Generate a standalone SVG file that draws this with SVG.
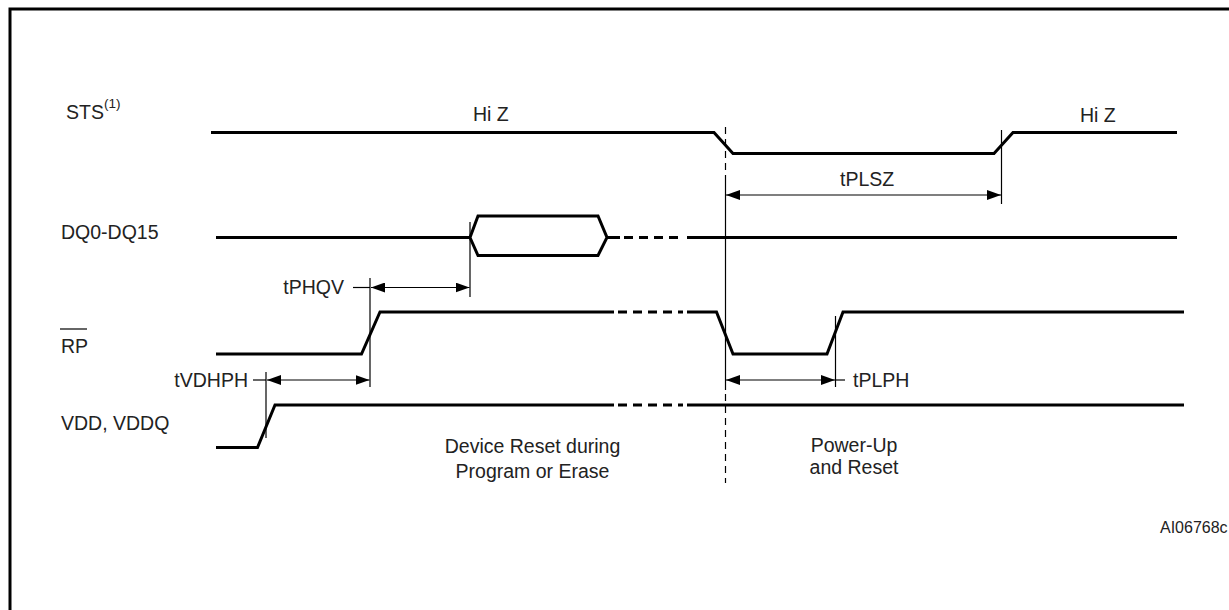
<svg xmlns="http://www.w3.org/2000/svg" width="1229" height="610" viewBox="0 0 1229 610">
<style>
.sig{fill:none;stroke:#000;stroke-width:3;stroke-linejoin:miter}
.dash{fill:none;stroke:#000;stroke-width:3;stroke-dasharray:9 6}
.thin{fill:none;stroke:#000;stroke-width:1.2}
.vdash{fill:none;stroke:#000;stroke-width:1.2;stroke-dasharray:7 5}
.t{font-family:"Liberation Sans",Arial,sans-serif;font-size:19.5px;fill:#222}
.s{font-family:"Liberation Sans",Arial,sans-serif;font-size:16px;fill:#222}
</style>
<defs>
<marker id="ah" viewBox="0 0 14 10" refX="14" refY="5" markerWidth="14" markerHeight="10" markerUnits="userSpaceOnUse" orient="auto-start-reverse">
<path d="M0,0 L14,5 L0,10 Z" fill="#000"/>
</marker>
</defs>
<rect width="1229" height="610" fill="#fff"/>
<path d="M10,615 V9 H1235" fill="none" stroke="#000" stroke-width="3"/>

<g id="sts">
<text class="t" x="66" y="119">STS<tspan font-size="13.5px" dy="-11">(1)</tspan></text>
<path class="sig" d="M211,132.5 H714 L733,153.5 H994 L1013,132.5 H1177"/>
<text class="t" x="473" y="121">Hi Z</text>
<text class="t" x="1080" y="121.5">Hi Z</text>
</g>

<g id="dq">
<text class="t" x="61" y="239">DQ0-DQ15</text>
<path class="sig" d="M216,237.5 H470 M470,237.5 L478,216 H598 L607,237.5 L598,255.5 H478 Z M607,237.5 H620"/>
<path class="dash" d="M624,237.5 H683"/>
<path class="sig" d="M687,237.5 H1177"/>
</g>

<g id="rp">
<text class="t" x="61" y="352.5">RP</text>
<line class="thin" x1="60" y1="329" x2="87" y2="329" stroke-width="1.5"/>
<path class="sig" d="M216,354 H361.5 L380,312 H614"/>
<path class="dash" d="M618,312 H683"/>
<path class="sig" d="M687,312 H716.5 L733,354 H827 L843,312 H1184"/>
</g>

<g id="vdd">
<text class="t" x="61" y="430">VDD, VDDQ</text>
<path class="sig" d="M216,447.5 H257.5 L275,405 H614"/>
<path class="dash" d="M618,405 H683"/>
<path class="sig" d="M687,405 H1184"/>
</g>

<g id="connectors">
<path class="vdash" d="M725.5,127 V178"/>
<path class="thin" d="M725.5,178 V390"/>
<path class="vdash" d="M725.5,394 V483"/>
<line class="thin" x1="1001.5" y1="130" x2="1001.5" y2="204"/>
<line class="thin" x1="726" y1="195" x2="1001" y2="195" marker-start="url(#ah)" marker-end="url(#ah)"/>
<line class="thin" x1="470" y1="222" x2="470" y2="297"/>
<line class="thin" x1="370" y1="278" x2="370" y2="387"/>
<line class="thin" x1="353" y1="287.5" x2="370" y2="287.5"/>
<line class="thin" x1="371" y1="287.5" x2="469.5" y2="287.5" marker-start="url(#ah)" marker-end="url(#ah)"/>
<line class="thin" x1="266" y1="372" x2="266" y2="438"/>
<line class="thin" x1="253" y1="380" x2="266" y2="380"/>
<line class="thin" x1="267" y1="380" x2="369.5" y2="380" marker-start="url(#ah)" marker-end="url(#ah)"/>
<line class="thin" x1="835.5" y1="316" x2="835.5" y2="387"/>
<line class="thin" x1="726" y1="380" x2="835" y2="380" marker-start="url(#ah)" marker-end="url(#ah)"/>
<line class="thin" x1="835" y1="380" x2="845" y2="380"/>
</g>

<g id="labels">
<text class="t" x="840" y="186">tPLSZ</text>
<text class="t" x="344" y="293.5" text-anchor="end">tPHQV</text>
<text class="t" x="248" y="387" text-anchor="end">tVDHPH</text>
<text class="t" x="853" y="387">tPLPH</text>
<text class="t" x="532.5" y="453" text-anchor="middle">Device Reset during</text>
<text class="t" x="532.5" y="477.5" text-anchor="middle">Program or Erase</text>
<text class="t" x="854" y="451.5" text-anchor="middle">Power-Up</text>
<text class="t" x="854" y="473.5" text-anchor="middle">and Reset</text>
<text class="s" x="1160" y="532.5">AI06768c</text>
</g>
</svg>
